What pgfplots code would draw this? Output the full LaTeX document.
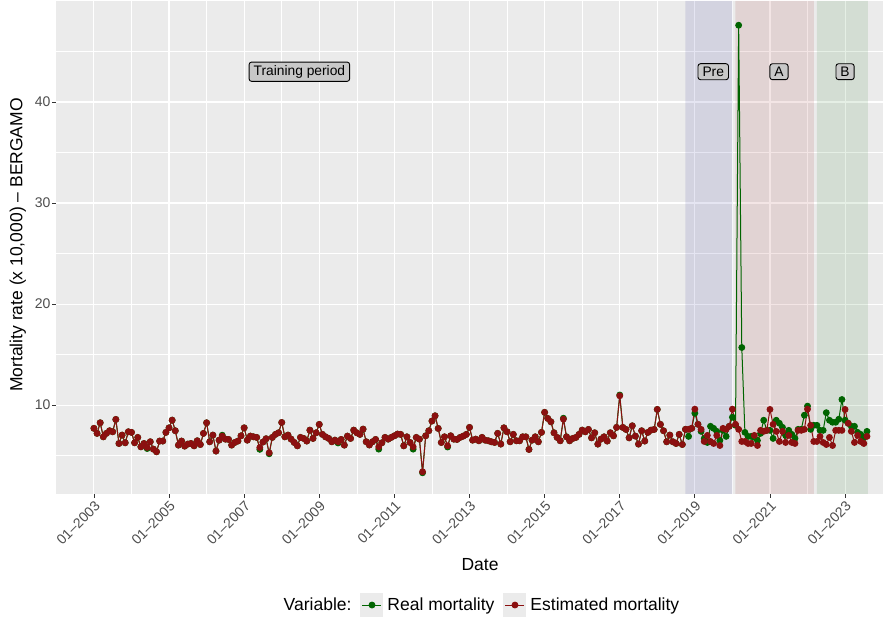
\documentclass[border=0pt]{standalone}
\usepackage{pgfplots}
\pgfplotsset{compat=1.18}
\usepackage{pgfplotstable}
\usepackage{fontspec}
\setmainfont{Liberation Sans}
\definecolor{panel}{RGB}{235,235,235}
\definecolor{realc}{RGB}{0,100,0}
\definecolor{estc}{RGB}{139,16,16}
\definecolor{tickc}{RGB}{77,77,77}
\definecolor{labfill}{RGB}{200,200,200}
\definecolor{keybg}{RGB}{235,235,235}
\definecolor{navyc}{RGB}{0,0,128}
\definecolor{dredc}{RGB}{139,0,0}
\definecolor{dgreenc}{RGB}{0,100,0}

\pgfplotstableread{
k real est
0 7.70 7.70
1 7.20 7.20
2 8.25 8.25
3 6.86 6.86
4 7.20 7.20
5 7.46 7.46
6 7.36 7.36
7 8.58 8.58
8 6.20 6.20
9 7.03 7.03
10 6.27 6.27
11 7.36 7.36
12 7.30 7.30
13 6.27 6.27
14 6.80 6.80
15 5.87 5.87
16 6.20 6.20
17 5.70 5.81
18 6.37 6.37
19 5.64 5.64
20 5.38 5.38
21 6.44 6.44
22 6.44 6.44
23 7.30 7.30
24 7.75 7.75
25 8.51 8.51
26 7.46 7.46
27 6.04 6.04
28 6.44 6.44
29 5.94 5.94
30 6.14 6.14
31 6.20 6.20
32 5.97 5.97
33 6.47 6.47
34 6.10 6.10
35 7.20 7.20
36 8.25 8.25
37 6.37 6.37
38 7.03 7.03
39 5.45 5.45
40 6.53 6.53
41 7.02 6.93
42 6.63 6.63
43 6.60 6.60
44 6.04 6.04
45 6.30 6.30
46 6.44 6.44
47 6.96 6.96
48 7.75 7.75
49 6.53 6.53
50 6.93 6.93
51 6.86 6.86
52 6.80 6.80
53 5.62 5.80
54 6.34 6.34
55 6.67 6.67
56 5.18 5.28
57 6.80 6.80
58 7.10 7.10
59 7.26 7.26
60 8.28 8.28
61 6.86 6.86
62 7.03 7.03
63 6.63 6.63
64 6.30 6.30
65 5.97 5.97
66 6.80 6.80
67 6.70 6.70
68 6.44 6.44
69 7.52 7.52
70 6.70 6.70
71 7.26 7.26
72 8.09 8.09
73 7.10 7.10
74 6.86 6.86
75 6.70 6.70
76 6.37 6.37
77 6.53 6.53
78 6.25 6.37
79 6.60 6.60
80 6.04 6.04
81 6.93 6.93
82 6.70 6.70
83 7.52 7.52
84 7.26 7.26
85 7.10 7.10
86 7.62 7.62
87 6.37 6.37
88 6.05 6.05
89 6.37 6.37
90 6.60 6.60
91 5.64 5.87
92 6.27 6.27
93 6.80 6.80
94 6.63 6.63
95 6.80 6.80
96 6.96 6.96
97 7.13 7.13
98 7.10 7.10
99 5.97 5.97
100 6.86 6.86
101 6.30 6.30
102 5.64 5.87
103 6.80 6.80
104 6.63 6.63
105 3.30 3.40
106 6.96 6.96
107 7.46 7.46
108 8.42 8.42
109 8.94 8.94
110 7.69 7.69
111 6.30 6.30
112 6.86 6.86
113 5.85 5.97
114 6.96 6.96
115 6.63 6.63
116 6.60 6.60
117 6.80 6.80
118 6.93 6.93
119 7.10 7.10
120 7.79 7.79
121 6.53 6.53
122 6.63 6.63
123 6.47 6.47
124 6.80 6.80
125 6.53 6.53
126 6.47 6.47
127 6.37 6.37
128 6.30 6.30
129 7.20 7.20
130 6.14 6.14
131 7.75 7.75
132 7.36 7.36
133 6.37 6.37
134 7.10 7.10
135 6.47 6.47
136 6.47 6.47
137 6.86 6.86
138 6.86 6.86
139 5.61 5.61
140 6.53 6.53
141 6.86 6.86
142 6.37 6.37
143 7.30 7.30
144 9.28 9.28
145 8.68 8.68
146 8.35 8.35
147 7.26 7.26
148 6.80 6.80
149 6.47 6.47
150 8.70 8.61
151 6.86 6.86
152 6.47 6.47
153 6.70 6.70
154 6.80 6.80
155 7.10 7.10
156 7.52 7.52
157 7.36 7.36
158 7.59 7.59
159 6.76 6.76
160 7.26 7.26
161 6.14 6.14
162 6.63 6.63
163 6.86 6.86
164 6.44 6.44
165 7.26 7.26
166 6.96 6.96
167 7.79 7.79
168 11.00 10.92
169 7.79 7.79
170 7.59 7.59
171 6.76 6.76
172 7.95 7.95
173 6.93 6.93
174 6.14 6.14
175 7.46 7.46
176 6.44 6.44
177 7.30 7.30
178 7.52 7.52
179 7.59 7.59
180 9.57 9.57
181 8.09 8.09
182 7.46 7.46
183 6.37 6.37
184 7.03 7.03
185 6.37 6.37
186 6.20 6.20
187 7.10 7.10
188 6.10 6.10
189 7.60 7.60
190 6.90 7.60
191 7.70 7.70
192 9.20 9.60
193 8.10 8.10
194 7.40 7.60
195 6.70 6.40
196 6.30 7.00
197 7.90 6.40
198 7.70 6.20
199 7.40 7.00
200 6.50 6.00
201 7.50 7.70
202 6.90 7.60
203 7.90 7.90
204 8.80 9.60
205 8.00 8.10
206 47.60 7.60
207 15.70 6.40
208 7.30 6.40
209 6.90 6.20
210 6.90 6.20
211 6.80 7.00
212 6.50 6.00
213 7.20 7.50
214 8.50 7.40
215 7.50 7.50
216 7.50 9.57
217 6.70 8.10
218 8.50 7.40
219 8.20 6.40
220 7.80 7.40
221 7.00 6.30
222 7.50 7.00
223 7.10 6.30
224 6.70 6.20
225 7.60 7.50
226 7.60 7.50
227 9.00 7.60
228 9.90 9.60
229 7.60 8.00
230 8.00 6.40
231 8.00 6.40
232 7.50 6.90
233 7.50 6.30
234 9.25 6.10
235 8.50 6.80
236 8.30 6.00
237 8.30 7.50
238 8.60 7.50
239 10.55 7.50
240 8.50 9.57
241 8.20 8.20
242 7.90 7.40
243 7.90 6.30
244 7.30 7.00
245 7.10 6.40
246 6.80 6.20
247 7.40 6.90
}\data

\begin{document}
\begin{tikzpicture}[x=1pt,y=1pt]
\path[use as bounding box] (0,0) rectangle (896,620);
\begin{axis}[
  at={(56pt,126pt)}, anchor=south west,
  scale only axis, width=827pt, height=493pt,
  xmin=2001.99, xmax=2024.01, ymin=1.2, ymax=50.0,
  axis background/.style={fill=panel},
  axis line style={draw=none},
  grid=both,
  major grid style={white, line width=1.1pt},
  minor grid style={white, line width=0.55pt},
  xtick={2003,2005,...,2023},
  minor xtick={2004,2006,...,2022},
  xticklabels={01--2003,01--2005,01--2007,01--2009,01--2011,01--2013,01--2015,01--2017,01--2019,01--2021,01--2023},
  ytick={10,20,30,40},
  minor ytick={5,15,25,35,45},
  tick align=outside,
  tick pos=left,
  major tick length=3.8pt,
  minor tick length=0pt,
  tick style={color=black!80, line width=0.75pt},
  ticklabel style={font=\fontsize{14}{16}\selectfont, text=tickc, inner sep=1.5pt},
  xticklabel style={rotate=45, anchor=north east},
  /pgf/number format/assume math mode=true,
  xlabel={Date},
  ylabel={Mortality rate (x 10,000) -- BERGAMO},
  label style={font=\fontsize{17.5}{20}\selectfont},
  xlabel style={at={(axis description cs:0.5127,-0.1440)}, anchor=center},
  ylabel style={at={(axis description cs:-0.046,0.505)}, anchor=center},
  legend columns=-1,
  legend style={at={(axis description cs:0.5145,-0.2252)}, anchor=center,
    draw=none, fill=none, font=\fontsize{17.5}{20}\selectfont,
    nodes={inner xsep=4pt},
    /tikz/every even column/.append style={column sep=5pt}},
  legend image code/.code={
    \fill[keybg, draw=none] (0pt,-12pt) rectangle (23pt,12pt);
    \draw[mark repeat=2, mark phase=2] plot coordinates {(2pt,0pt) (11.5pt,0pt) (21pt,0pt)};
  },
]
\addplot[draw=none, fill=navyc, fill opacity=0.1, forget plot] coordinates {(2018.75,1.2) (2020.0,1.2) (2020.0,50.0) (2018.75,50.0)} \closedcycle;
\addplot[draw=none, fill=dredc, fill opacity=0.1, forget plot] coordinates {(2020.08,1.2) (2022.17,1.2) (2022.17,50.0) (2020.08,50.0)} \closedcycle;
\addplot[draw=none, fill=dgreenc, fill opacity=0.1, forget plot] coordinates {(2022.25,1.2) (2023.61,1.2) (2023.61,50.0) (2022.25,50.0)} \closedcycle;

\addlegendimage{empty legend}
\addlegendentry{Variable:}
\addplot[color=realc, line width=1.0pt, mark=*, mark size=2.9pt, mark options={solid, fill=realc, draw=none}]
  table[x expr=2003+\thisrow{k}/12, y=real]{\data};
\addlegendentry{Real mortality}
\addplot[color=estc, line width=1.0pt, mark=*, mark size=2.9pt, mark options={solid, fill=estc, draw=none}]
  table[x expr=2003+\thisrow{k}/12, y=est]{\data};
\addlegendentry{Estimated mortality}

\tikzset{lab/.style={fill=labfill, draw=black, rounded corners=2.5pt, line width=0.9pt, inner xsep=4.5pt, inner ysep=3.2pt, font=\fontsize{13.8}{16}\selectfont}}
\node[lab] at (axis cs:2008.47,43) {Training period};
\node[lab] at (axis cs:2019.49,43) {Pre};
\node[lab] at (axis cs:2021.24,43) {A};
\node[lab] at (axis cs:2023.0,43) {B};
\end{axis}
\end{tikzpicture}
\end{document}
